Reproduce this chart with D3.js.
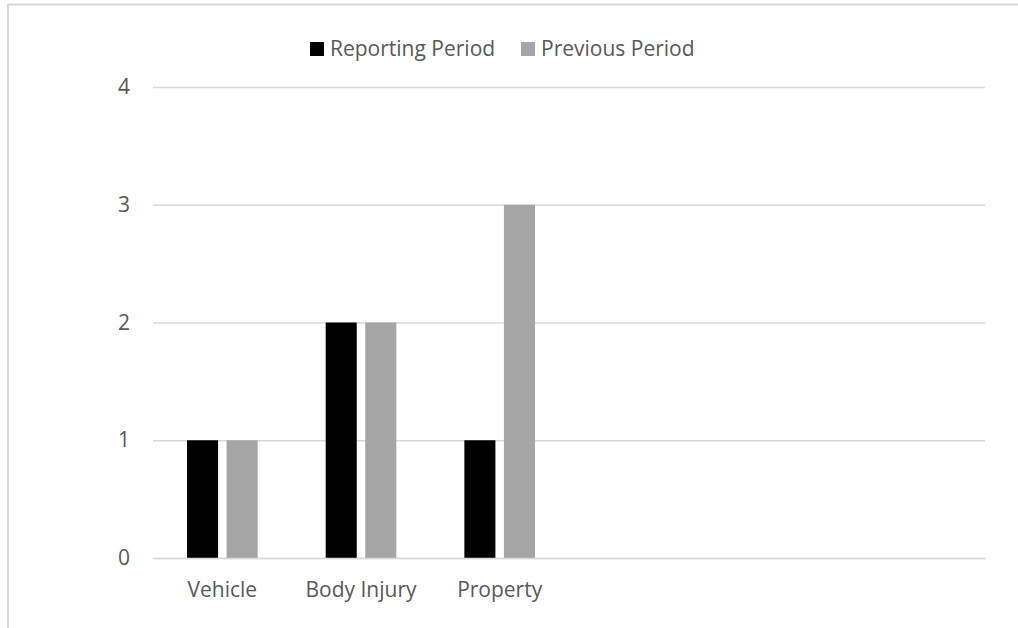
<!DOCTYPE html>
<html>
<head>
<meta charset="utf-8">
<script src="https://cdn.jsdelivr.net/npm/d3@7"></script>
<style>
  html, body { margin: 0; padding: 0; background: #fff; }
  svg text { font-family: "Open Sans", "Noto Sans", sans-serif; fill: #595959; }
</style>
</head>
<body>
<svg id="chart" width="1018" height="628"></svg>
<script>
const categories = ["Vehicle", "Body Injury", "Property", "", "", ""];
const seriesNames = ["Reporting Period", "Previous Period"];
const reportingValues = [1, 2, 1, null, null, null];
const previousValues = [1, 2, 3, null, null, null];
const yTicks = [0, 1, 2, 3, 4];
const seriesColors = ["#000000", "#a5a5a5"];

const W = 1018, H = 628;
const FS = 21;
const margin = { left: 153, right: 33, top: 87, bottom: 70 };
const svg = d3.select("#chart");

// outer frame (top and left edges visible)
svg.append("line").attr("x1", 8).attr("x2", W).attr("y1", 4.5).attr("y2", 4.5)
  .attr("stroke", "#d9d9d9").attr("stroke-width", 2);
svg.append("line").attr("x1", 8).attr("x2", 8).attr("y1", 4).attr("y2", H)
  .attr("stroke", "#d9d9d9").attr("stroke-width", 2);

const x0 = d3.scaleBand().domain(d3.range(categories.length))
  .range([margin.left, W - margin.right]).paddingInner(0).paddingOuter(0);
const x1 = d3.scaleBand().domain(d3.range(seriesNames.length))
  .range([0, x0.bandwidth()]).paddingInner(0.215).paddingOuter(0.86);
const y = d3.scaleLinear().domain([0, 4]).range([H - margin.bottom, margin.top]);

// gridlines
const yAxis = d3.axisLeft(y).tickValues(yTicks).tickFormat(d3.format("d"))
  .tickSize(-(W - margin.left - margin.right)).tickPadding(23);
const gy = svg.append("g").attr("transform", `translate(${margin.left},0)`).call(yAxis);
gy.select(".domain").remove();
gy.selectAll(".tick line").attr("stroke", "#d9d9d9").attr("stroke-width", 1.5);
gy.selectAll(".tick text").attr("font-size", FS).style("fill", "#595959");

// bars
const series = [reportingValues, previousValues];
series.forEach((vals, si) => {
  svg.append("g").selectAll("rect")
    .data(vals.map((v, i) => ({ v, i })).filter(d => d.v != null))
    .join("rect")
    .attr("x", d => x0(d.i) + x1(si))
    .attr("width", x1.bandwidth())
    .attr("y", d => y(d.v))
    .attr("height", d => y(0) - y(d.v))
    .attr("fill", seriesColors[si]);
});

// x axis
const xAxis = d3.axisBottom(x0).tickFormat(i => categories[i]).tickSize(0).tickPadding(24);
const gx = svg.append("g").attr("transform", `translate(0,${y(0)})`).call(xAxis);
gx.select(".domain").attr("stroke", "#d9d9d9").attr("stroke-width", 1.5);
gx.selectAll(".tick text").attr("font-size", FS).style("fill", "#595959");

// legend
const legend = svg.append("g");
const legendX = [310, 521];
seriesNames.forEach((name, i) => {
  legend.append("rect").attr("x", legendX[i]).attr("y", 42).attr("width", 14).attr("height", 14)
    .attr("fill", seriesColors[i]);
  legend.append("text").attr("x", legendX[i] + 20).attr("y", 56)
    .attr("font-size", FS).text(name);
});
</script>
</body>
</html>
